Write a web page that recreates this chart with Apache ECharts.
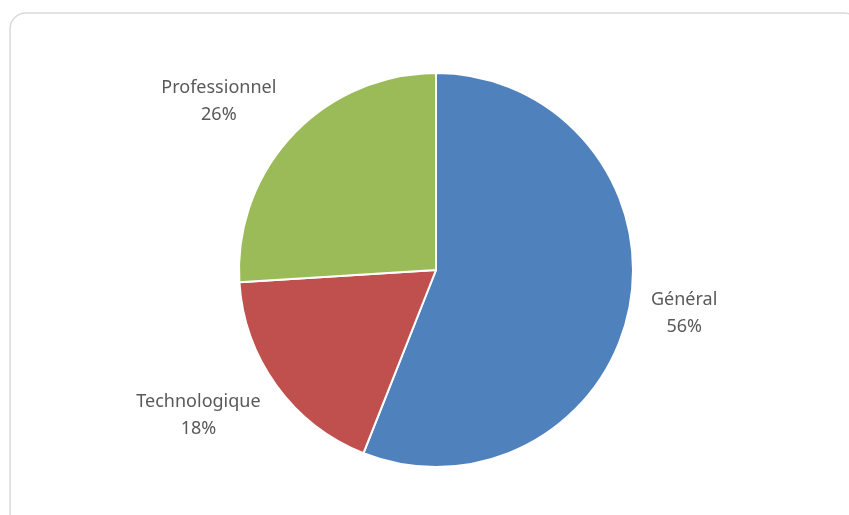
<!DOCTYPE html>
<html>
<head>
<meta charset="utf-8">
<script src="https://cdn.jsdelivr.net/npm/echarts@6/dist/echarts.min.js"></script>
<style>html,body{margin:0;padding:0;background:#fff;}#c{width:849px;height:515px;}</style>
</head>
<body>
<div id="c"></div>
<script>
var categories = ['Général', 'Technologique', 'Professionnel'];
var values = [56, 18, 26];
var colors = ['#4F81BD', '#C0504D', '#9BBB59'];
var labelShiftX = [35, -62, -59];
var labelShiftY = [3, 18, -20];

var chart = echarts.init(document.getElementById('c'), null, {renderer: 'canvas'});
chart.setOption({
  animation: false,
  backgroundColor: '#fff',
  graphic: [{
    type: 'rect',
    shape: {x: 10, y: 13, width: 850, height: 520, r: 16},
    style: {fill: 'none', stroke: '#d9d9d9', lineWidth: 1.5},
    silent: true
  }],
  series: [{
    type: 'pie',
    center: [436, 270],
    radius: 197,
    startAngle: 90,
    clockwise: true,
    avoidLabelOverlap: false,
    itemStyle: {borderColor: '#fff', borderWidth: 2},
    label: {
      show: true,
      position: 'outside',
      formatter: '{b}\n{d}%',
      fontFamily: 'Noto Sans',
      fontSize: 18,
      lineHeight: 27,
      color: '#595959',
      distanceToLabelLine: 0
    },
    labelLine: {show: false, length: 20, length2: 0},
    labelLayout: function (p) {
      return {align: 'center', dx: labelShiftX[p.dataIndex], dy: labelShiftY[p.dataIndex]};
    },
    data: categories.map(function (c, i) {
      return {name: c, value: values[i], itemStyle: {color: colors[i]}};
    })
  }]
});
</script>
</body>
</html>
